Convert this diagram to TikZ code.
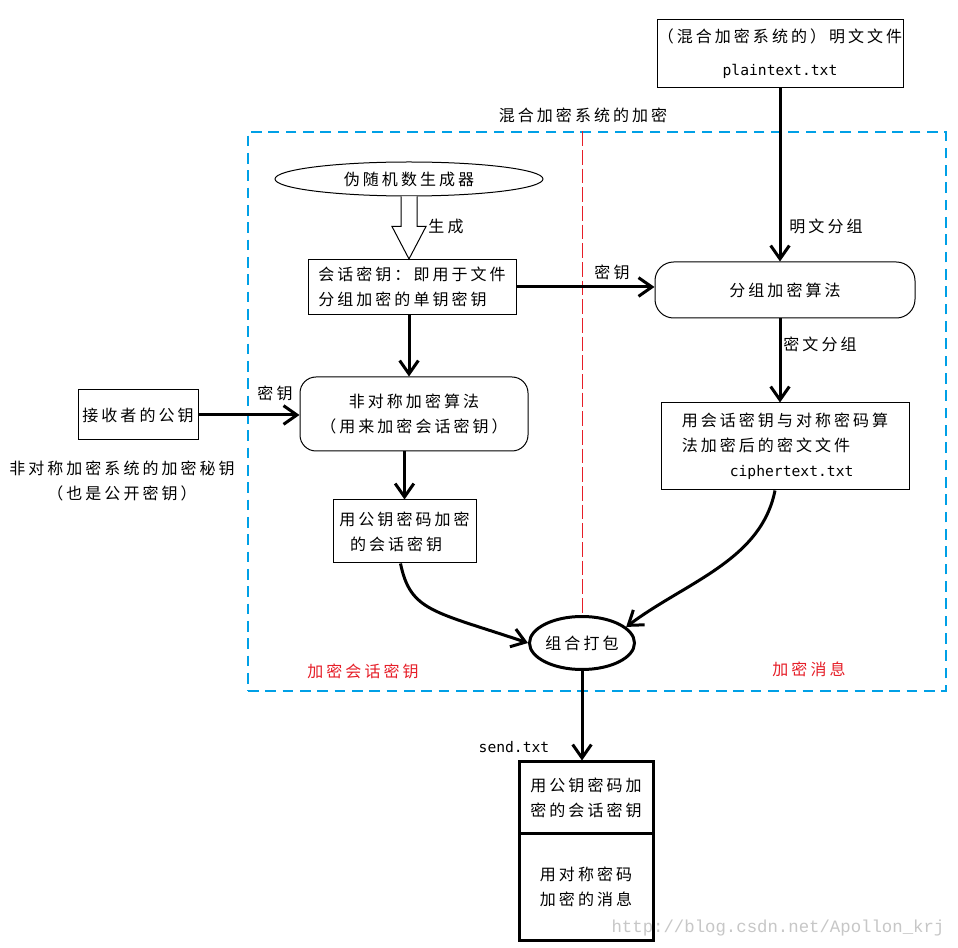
\documentclass[tikz,border=0pt]{standalone}
\usepackage{fontspec}
\setmainfont{Noto Sans CJK SC}[LetterSpace=19]
\newfontfamily\monof{DejaVu Sans Mono}
\newfontfamily\wmf{Liberation Mono}
\usetikzlibrary{arrows.meta,shapes.geometric,calc}
\definecolor{frameblue}{RGB}{0,160,230}
\definecolor{linered}{RGB}{230,30,40}
\begin{document}
\begin{tikzpicture}[x=0.75pt,y=-0.75pt,
  every node/.style={font=\fontsize{12pt}{18.75pt}\selectfont, inner sep=0pt},
  box/.style={draw, line width=0.75pt},
  arr/.style={line width=2.25pt, -{Straight Barb[length=10pt,width=14pt]}},
  lbl/.style={},
  redlbl/.style={text=linered},
  thickbox/.style={draw, line width=2.25pt}]
\useasboundingbox (0,0) rectangle (958,948);
\fill[white] (0,0) rectangle (958,948);

% frame and title
\node[draw=frameblue, line width=0.9pt, dash pattern=on 8pt off 5pt, minimum width=698*0.75pt, minimum height=559*0.75pt] (frame) at (597,411.5) {};
\node (title) at (583,115) {混合加密系统的加密};

% nodes
\node[box, minimum width=246*0.75pt, minimum height=68*0.75pt, align=center] (plain) at (780,54) {（混合加密系统的）明文文件\\[6pt]{\monof\fontsize{11pt}{13pt}\selectfont plaintext.txt}};
\node[box, ellipse, minimum width=268*0.75pt, minimum height=34*0.75pt] (rng) at (409,179) {伪随机数生成器};
\node[box, minimum width=208*0.75pt, minimum height=55*0.75pt, align=left] (sess) at (412,287) {会话密钥：即用于文件\\分组加密的单钥密钥};
\node[box, rounded corners=14pt, minimum width=260*0.75pt, minimum height=56*0.75pt] (blk) at (785,290) {分组加密算法};
\node[box, minimum width=248*0.75pt, minimum height=87*0.75pt, align=left] (cipher) at (785,446.5) {用会话密钥与对称密码算\\法加密后的密文文件\\\hspace*{36pt}{\monof\fontsize{11pt}{13pt}\selectfont ciphertext.txt}};
\node[box, rounded corners=12pt, minimum width=228*0.75pt, minimum height=74*0.75pt, align=center] (asym) at (414,414) {非对称加密算法\\（用来加密会话密钥）};
\node[box, minimum width=120*0.75pt, minimum height=50*0.75pt] (recv) at (138,415) {接收者的公钥};
\node[align=center] (note) at (122,480.5) {非对称加密系统的加密秘钥\\（也是公开密钥）};
\node[box, minimum width=143*0.75pt, minimum height=63*0.75pt, align=left] (pkbox) at (404.5,531.5) {用公钥密码加密\\\hspace*{8pt}的会话密钥};
\node[thickbox, ellipse, minimum width=105*0.75pt, minimum height=53*0.75pt] (pack) at (582,643) {组合打包};
\node[thickbox, minimum width=134*0.75pt, minimum height=71*0.75pt, align=left] (sendtop) at (586,797.5) {用公钥密码加\\密的会话密钥};
\node[thickbox, minimum width=134*0.75pt, minimum height=107*0.75pt, align=center] (sendbot) at (586,886.5) {用对称密码\\加密的消息};

% red divider
\draw[linered, line width=0.75pt, dash pattern=on 11pt off 3pt] (frame.north -| pack.north) -- (pack.north);

% hollow arrow
\draw[line width=0.75pt, fill=white]
  ($(rng.south)+(-8,0)$) -- ($(rng.south)+(-8,30)$) -- ($(rng.south)+(-17,30)$)
  -- (sess.north -| rng.south) -- ($(rng.south)+(17,30)$) -- ($(rng.south)+(8,30)$)
  -- ($(rng.south)+(8,0)$);
\node[lbl] (gen) at (446,226) {生成};

% connectors
\draw[arr] (sess.east) -- (sess.east -| blk.west);
\node[lbl] (k1) at (612,272) {密钥};
\draw[arr] (plain.south) -- (plain.south |- blk.north);
\node[lbl] (pg) at (826,226) {明文分组};
\draw[arr] (blk.south -| plain.south) -- (cipher.north -| plain.south);
\node[lbl] (cg) at (820,344) {密文分组};
\draw[arr] (sess.south -| rng.south) -- (asym.north -| rng.south);
\draw[arr] (recv.east) -- (recv.east -| asym.west);
\node[lbl] (k2) at (275,393) {密钥};
\draw[arr] (pkbox.north |- asym.south) -- (pkbox.north);
\draw[arr] ($(pkbox.south)+(-4,0)$) .. controls ($(pkbox.south)+(6,48)$) and ($(pack.west)+(-95,-32)$) .. (pack.west);
\draw[arr] ($(cipher.south)+(-10,0)$) .. controls ($(cipher.south)+(-24,70)$) and ($(pack.20)+(60,-45)$) .. (pack.20);
\draw[arr] (pack.south) -- (pack.south |- sendtop.north);
\node[font=\monof\fontsize{11pt}{13pt}\selectfont] (sendlbl) at (514,747) {send.txt};

% red labels
\node[redlbl] (r1) at (363,671) {加密会话密钥};
\node[redlbl] (r2) at (809,669) {加密消息};

% watermark
\node[text=black!22, font=\wmf\fontsize{13pt}{15pt}\selectfont] (wm) at (778,928) {http://blog.csdn.net/Apollon\_krj};
\end{tikzpicture}
\end{document}
